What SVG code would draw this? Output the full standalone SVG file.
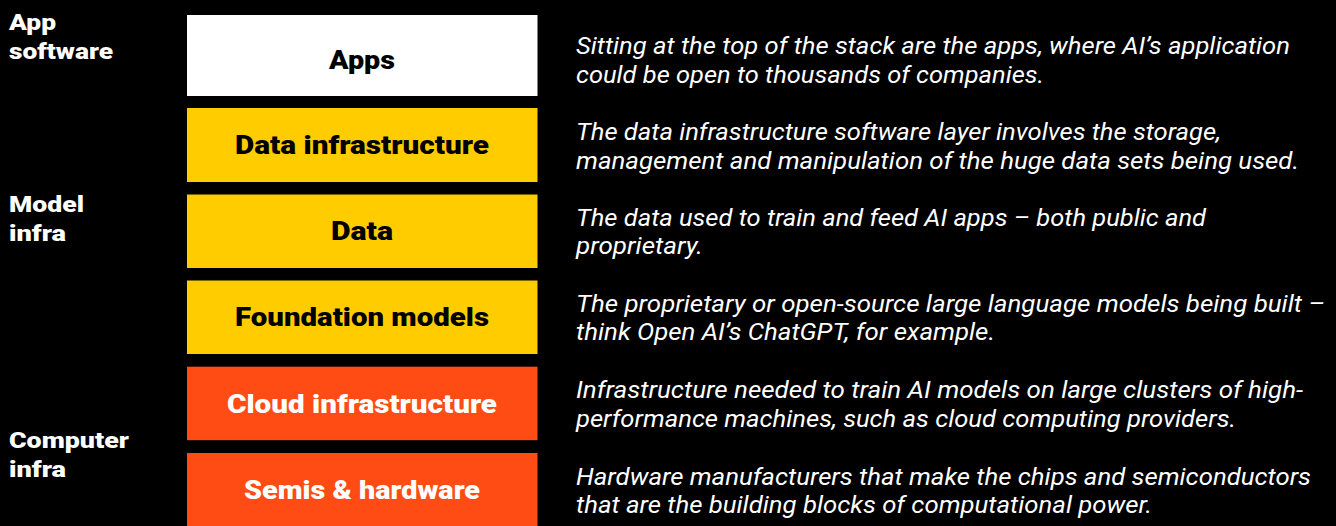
<svg xmlns="http://www.w3.org/2000/svg" width="1336" height="526" viewBox="0 0 1336 526">
<style>
.lbl{font-family:Roboto,"Liberation Sans",sans-serif;font-weight:900;font-size:22px;fill:#fff}
.bt{font-family:Roboto,"Liberation Sans",sans-serif;font-weight:900;font-size:25px;text-anchor:middle}
.dk{fill:#000}
.wt{fill:#fff}
.desc{font-family:Roboto,"Liberation Sans",sans-serif;font-style:italic;font-weight:400;font-size:23.5px;fill:#fff}
.yel{fill:#FFCC00}
.org{fill:#FF4B14}
</style>
<rect x="0" y="0" width="1336" height="526" fill="#000"/>
<g id="category-labels">
<text class="lbl" x="9" y="30" textLength="47" lengthAdjust="spacingAndGlyphs">App</text>
<text class="lbl" x="9" y="59" textLength="104" lengthAdjust="spacingAndGlyphs">software</text>
<text class="lbl" x="9" y="212" textLength="75" lengthAdjust="spacingAndGlyphs">Model</text>
<text class="lbl" x="9" y="241" textLength="57" lengthAdjust="spacingAndGlyphs">infra</text>
<text class="lbl" x="9" y="448" textLength="120" lengthAdjust="spacingAndGlyphs">Computer</text>
<text class="lbl" x="9" y="477" textLength="57" lengthAdjust="spacingAndGlyphs">infra</text>
</g>
<g id="node-apps">
<rect x="187" y="15" width="350.5" height="81" fill="#fff"/>
<text class="bt dk" x="362" y="69" textLength="66" lengthAdjust="spacingAndGlyphs">Apps</text>
</g>
<g id="node-data-infrastructure">
<rect class="yel" x="187" y="108" width="350.5" height="74"/>
<text class="bt dk" x="362" y="154" textLength="254" lengthAdjust="spacingAndGlyphs">Data infrastructure</text>
</g>
<g id="node-data">
<rect class="yel" x="187" y="194.5" width="350.5" height="73.5"/>
<text class="bt dk" x="362" y="240" textLength="62" lengthAdjust="spacingAndGlyphs">Data</text>
</g>
<g id="node-foundation-models">
<rect class="yel" x="187" y="280.5" width="350.5" height="73.5"/>
<text class="bt dk" x="362" y="326" textLength="254" lengthAdjust="spacingAndGlyphs">Foundation models</text>
</g>
<g id="node-cloud-infrastructure">
<rect class="org" x="187" y="366.7" width="350.5" height="73.5"/>
<text class="bt wt" x="362" y="413" textLength="270" lengthAdjust="spacingAndGlyphs">Cloud infrastructure</text>
</g>
<g id="node-semis-hardware">
<rect class="org" x="187" y="453" width="350.5" height="73"/>
<text class="bt wt" x="362" y="499" textLength="236" lengthAdjust="spacingAndGlyphs">Semis &amp; hardware</text>
</g>
<g id="descriptions">
<text class="desc" x="576" y="54" textLength="714" lengthAdjust="spacingAndGlyphs">Sitting at the top of the stack are the apps, where AI’s application</text>
<text class="desc" x="576" y="83" textLength="468" lengthAdjust="spacingAndGlyphs">could be open to thousands of companies.</text>
<text class="desc" x="576" y="140" textLength="645" lengthAdjust="spacingAndGlyphs">The data infrastructure software layer involves the storage,</text>
<text class="desc" x="576" y="169" textLength="723" lengthAdjust="spacingAndGlyphs">management and manipulation of the huge data sets being used.</text>
<text class="desc" x="576" y="226" textLength="630" lengthAdjust="spacingAndGlyphs">The data used to train and feed AI apps – both public and</text>
<text class="desc" x="576" y="254" textLength="127" lengthAdjust="spacingAndGlyphs">proprietary.</text>
<text class="desc" x="576" y="312" textLength="749" lengthAdjust="spacingAndGlyphs">The proprietary or open-source large language models being built –</text>
<text class="desc" x="576" y="340" textLength="419" lengthAdjust="spacingAndGlyphs">think Open AI’s ChatGPT, for example.</text>
<text class="desc" x="576" y="398" textLength="727" lengthAdjust="spacingAndGlyphs">Infrastructure needed to train AI models on large clusters of high-</text>
<text class="desc" x="576" y="427" textLength="660" lengthAdjust="spacingAndGlyphs">performance machines, such as cloud computing providers.</text>
<text class="desc" x="576" y="485" textLength="735" lengthAdjust="spacingAndGlyphs">Hardware manufacturers that make the chips and semiconductors</text>
<text class="desc" x="576" y="513" textLength="576" lengthAdjust="spacingAndGlyphs">that are the building blocks of computational power.</text>
</g>
<g id="connectors"></g>
</svg>
